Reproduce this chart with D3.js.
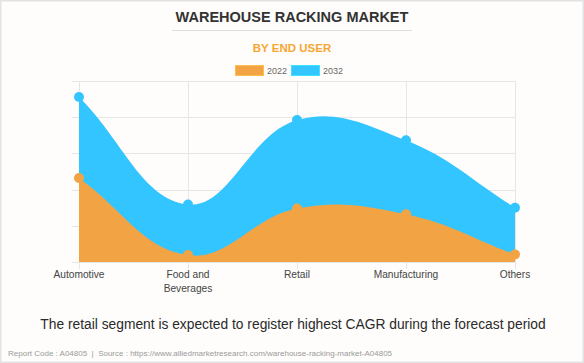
<!DOCTYPE html>
<html>
<head>
<meta charset="utf-8">
<script src="https://cdn.jsdelivr.net/npm/d3@7"></script>
<style>
  html, body { margin: 0; padding: 0; background: #ffffff; }
  svg { display: block; }
</style>
</head>
<body>
<svg id="chart" width="584" height="363"></svg>
<script>
// ---- data ----
const categories = ["Automotive", "Food and|Beverages", "Retail", "Manufacturing", "Others"];
const seriesNames = ["2022", "2032"];
const values2022 = [2.32, 0.19, 1.48, 1.32, 0.21];
const values2032 = [4.56, 1.59, 3.92, 3.36, 1.50];
const yTicks = [0, 1, 2, 3, 4, 5];
const colors = ["#F2A444", "#33C5FF"];

const titleText = "WAREHOUSE RACKING MARKET";
const subtitleText = "BY END USER";
const footnote = "The retail segment is expected to register highest CAGR during the forecast period";
const sourceText = "Report Code : A04805  |  Source : https://www.alliedmarketresearch.com/warehouse-racking-market-A04805";

// ---- layout ----
const W = 584, H = 363;
const plot = { left: 79, right: 515, top: 81, bottom: 262 };
const font = "'Liberation Sans', Arial, Helvetica, sans-serif";

const svg = d3.select("#chart");
svg.append("rect").attr("x", 0.75).attr("y", 0.75).attr("width", W - 1.5).attr("height", H - 1.5)
  .attr("fill", "#FEFDFB").attr("stroke", "#E3E3E3").attr("stroke-width", 1.5);

// titles
svg.append("text").attr("x", 292).attr("y", 22.3).attr("text-anchor", "middle")
  .attr("font-family", font).attr("font-weight", "bold").attr("font-size", 14.5)
  .attr("fill", "#333333").text(titleText);
svg.append("line").attr("x1", 172).attr("x2", 412).attr("y1", 30.5).attr("y2", 30.5)
  .attr("stroke", "#DDDDDD").attr("stroke-width", 1);
svg.append("text").attr("x", 292).attr("y", 52.3).attr("text-anchor", "middle")
  .attr("font-family", font).attr("font-weight", "bold").attr("font-size", 11.5)
  .attr("fill", "#F7A631").text(subtitleText);

// legend
const legendX = [235, 291];
seriesNames.forEach((name, i) => {
  const g = svg.append("g");
  g.append("rect").attr("x", legendX[i] + 0.5).attr("y", 65.5).attr("width", 28).attr("height", 10)
    .attr("fill", colors[i]).attr("stroke", d3.color(colors[i]).brighter(0.4)).attr("stroke-width", 1);
  g.append("text").attr("x", legendX[i] + 32).attr("y", 73.8)
    .attr("font-family", font).attr("font-size", 9).attr("fill", "#666").text(name);
});

// scales
const x = d3.scalePoint().domain(categories).range([plot.left, plot.right]);
const y = d3.scaleLinear().domain([0, 5]).range([plot.bottom, plot.top]);

// grid
const grid = svg.append("g").attr("stroke", "#E6E6E6").attr("stroke-width", 1);
yTicks.forEach(t => {
  grid.append("line").attr("x1", plot.left - 7).attr("x2", plot.right)
    .attr("y1", Math.round(y(t)) + 0.5).attr("y2", Math.round(y(t)) + 0.5);
});
categories.forEach(c => {
  grid.append("line").attr("x1", Math.round(x(c)) + 0.5).attr("x2", Math.round(x(c)) + 0.5)
    .attr("y1", plot.top).attr("y2", plot.bottom + 7);
});

// Chart.js-like spline curve (tension 0.4, control points capped to chart area)
function ChartSpline(context) { this._context = context; }
ChartSpline.prototype = {
  areaStart() { this._line = 0; },
  areaEnd() { this._line = NaN; },
  lineStart() { this._pts = []; },
  point(px, py) { this._pts.push([+px, +py]); },
  lineEnd() {
    const p = this._pts, n = p.length, ctx = this._context, t = 0.4;
    if (n) {
      if (this._line) ctx.lineTo(p[0][0], p[0][1]); else ctx.moveTo(p[0][0], p[0][1]);
      const cps = p.map((cur, i) => {
        const prev = i > 0 ? p[i - 1] : cur;
        const next = i < n - 1 ? p[i + 1] : cur;
        const d01 = Math.hypot(cur[0] - prev[0], cur[1] - prev[1]);
        const d12 = Math.hypot(next[0] - cur[0], next[1] - cur[1]);
        let s01 = d01 / (d01 + d12), s12 = d12 / (d01 + d12);
        if (isNaN(s01)) s01 = 0; if (isNaN(s12)) s12 = 0;
        const fa = t * s01, fb = t * s12;
        const cap = (q) => [Math.max(plot.left, Math.min(plot.right, q[0])), Math.max(plot.top, Math.min(plot.bottom, q[1]))];
        return {
          prev: cap([cur[0] - fa * (next[0] - prev[0]), cur[1] - fa * (next[1] - prev[1])]),
          next: cap([cur[0] + fb * (next[0] - prev[0]), cur[1] + fb * (next[1] - prev[1])])
        };
      });
      for (let i = 1; i < n; i++) {
        ctx.bezierCurveTo(cps[i - 1].next[0], cps[i - 1].next[1], cps[i].prev[0], cps[i].prev[1], p[i][0], p[i][1]);
      }
    }
    if (this._line || (this._line !== 0 && n === 1)) ctx.closePath();
    this._line = 1 - this._line;
  }
};
const chartSpline = (ctx) => new ChartSpline(ctx);

const area = d3.area()
  .x((d, i) => x(categories[i]))
  .y0(y(0))
  .y1(d => y(d))
  .curve(chartSpline);

const seriesData = [values2022, values2032];
// draw 2032 first, 2022 on top
[1, 0].forEach(si => {
  const g = svg.append("g");
  g.append("path").datum(seriesData[si]).attr("d", area).attr("fill", colors[si]);
  g.selectAll("circle").data(seriesData[si]).join("circle")
    .attr("cx", (d, i) => x(categories[i])).attr("cy", d => y(d)).attr("r", 5)
    .attr("fill", colors[si]);
});

// x labels
categories.forEach(c => {
  const lines = c.split("|");
  const tx = svg.append("text").attr("text-anchor", "middle")
    .attr("font-family", font).attr("font-size", 10.2).attr("fill", "#444");
  lines.forEach((ln, k) => {
    tx.append("tspan").attr("x", x(c)).attr("y", 277.5 + k * 14.5).text(ln);
  });
});

// footnote & source
svg.append("text").attr("x", 293).attr("y", 329.3).attr("text-anchor", "middle")
  .attr("font-family", font).attr("font-size", 13.8).attr("fill", "#2A2A2A").text(footnote);
svg.append("text").attr("x", 8).attr("y", 355.5)
  .attr("font-family", font).attr("font-size", 8).attr("fill", "#9A9A9A")
  .attr("xml:space", "preserve").style("white-space", "pre").text(sourceText);
</script>
</body>
</html>
